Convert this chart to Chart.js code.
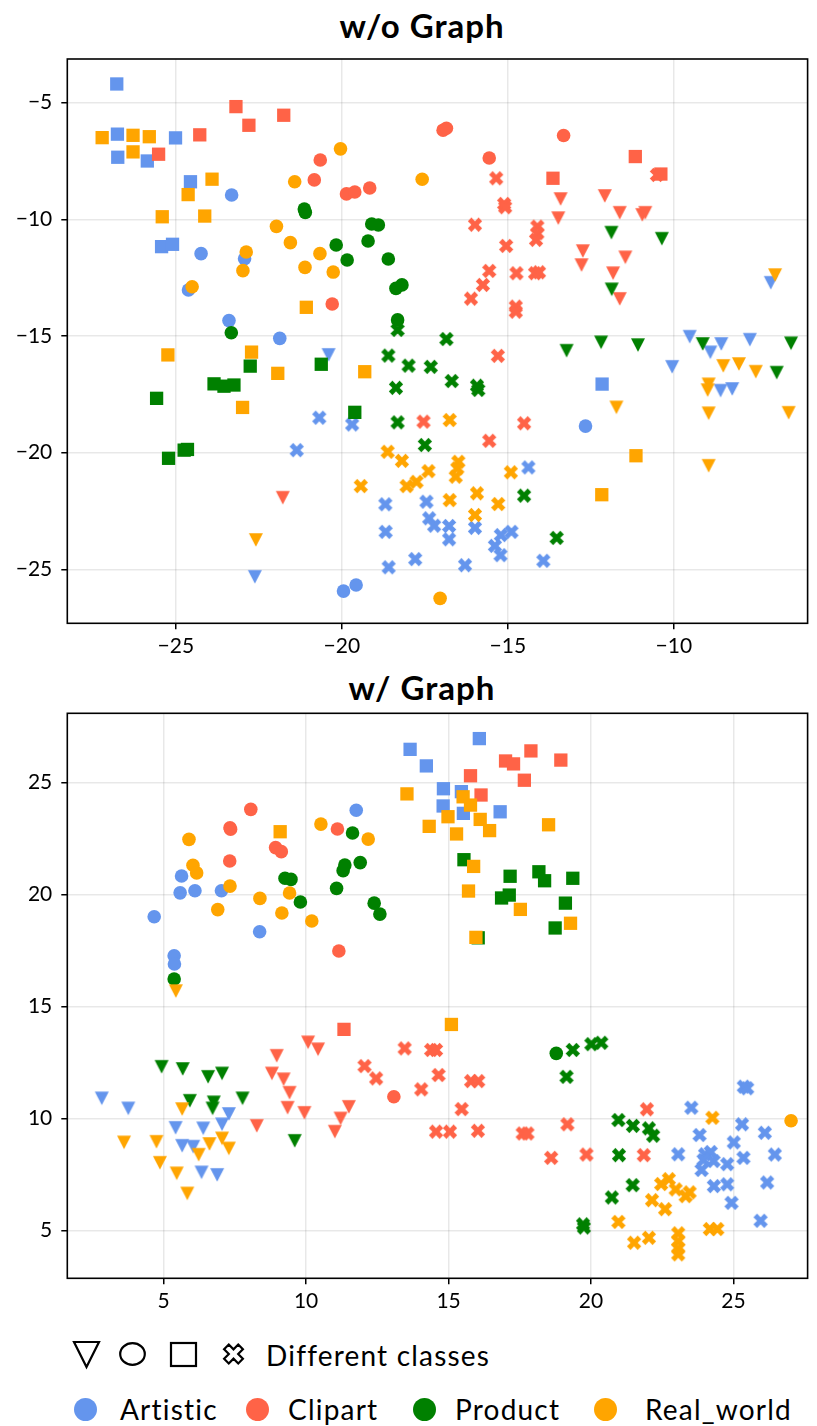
<!DOCTYPE html>
<html>
<head>
<meta charset="utf-8">
<script src="https://cdn.jsdelivr.net/npm/chart.js@4"></script>
<style>
  body { margin: 0; width: 817px; height: 1426px; background: #fff; position: relative; overflow: hidden;
         font-family: Lato, 'Open Sans', sans-serif; color: #000; }
  .title { position: absolute; left: 0; width: 844px; text-align: center; font-weight: bold; font-size: 33px; letter-spacing: 1px; line-height: 1; }
  canvas.chart { position: absolute; left: 0; }
  .leg { position: absolute; font-size: 28px; letter-spacing: 1.2px; line-height: 1; white-space: nowrap; }
  .dot { position: absolute; width: 23px; height: 23px; border-radius: 50%; }
  svg { position: absolute; overflow: visible; }
</style>
</head>
<body>
<div class="title" style="top:9px">w/o Graph</div>
<canvas id="woChart" class="chart" width="817" height="660" style="top:0"></canvas>
<div class="title" style="top:671px">w/ Graph</div>
<canvas id="wChart" class="chart" width="817" height="655" style="top:660px"></canvas>

<svg style="left:73px;top:1341px" width="27" height="27"><polygon points="1,1 26,1 13.5,26" fill="none" stroke="#000" stroke-width="2.2"/></svg>
<svg style="left:119px;top:1342px" width="28" height="24"><ellipse cx="13.5" cy="12" rx="12.3" ry="10.8" fill="none" stroke="#000" stroke-width="2.2"/></svg>
<svg style="left:170px;top:1342px" width="27" height="25"><rect x="1" y="1" width="25" height="23" fill="none" stroke="#000" stroke-width="2.2"/></svg>
<svg style="left:220px;top:1342px" width="27" height="24"><g transform="translate(13.5,12) rotate(45)"><polygon points="-3.3,-10 3.3,-10 3.3,-3.3 10,-3.3 10,3.3 3.3,3.3 3.3,10 -3.3,10 -3.3,3.3 -10,3.3 -10,-3.3 -3.3,-3.3" fill="none" stroke="#000" stroke-width="2.2"/></g></svg>
<div class="leg" style="left:266px;top:1341px">Different classes</div>

<div class="dot" style="left:74px;top:1398px;background:#6495ED"></div>
<div class="leg" style="left:120px;top:1395px">Artistic</div>
<div class="dot" style="left:246px;top:1398px;background:#FF6347"></div>
<div class="leg" style="left:288px;top:1395px">Clipart</div>
<div class="dot" style="left:413px;top:1398px;background:#008000"></div>
<div class="leg" style="left:455px;top:1395px">Product</div>
<div class="dot" style="left:594px;top:1398px;background:#FFA500"></div>
<div class="leg" style="left:645px;top:1395px">Real_world</div>

<script>
const domains = ['Artistic', 'Clipart', 'Product', 'Real_world'];
const shapes = ['x', 'tri', 'circ', 'sq'];

// w/o Graph
const woArtisticTri = [[-7.08,-12.72],[-9.52,-15.03],[-8.57,-15.34],[-7.71,-15.16],[-8.9,-15.7],[-10.05,-16.32],[-8.59,-17.34],[-8.24,-17.27],[-20.4,-15.81],[-22.62,-25.32]];
const woArtisticCirc = [[-23.32,-8.96],[-24.24,-11.47],[-22.93,-11.69],[-24.62,-13.03],[-23.4,-14.34],[-21.87,-15.1],[-19.95,-25.93],[-19.57,-25.67],[-12.66,-18.86]];
const woArtisticSq = [[-26.78,-4.2],[-26.76,-6.35],[-26.75,-7.34],[-25.86,-7.5],[-25.01,-6.51],[-24.56,-8.39],[-25.43,-11.17],[-25.1,-11.07],[-12.16,-17.06]];
const woArtisticX = [[-20.68,-18.5],[-19.69,-18.79],[-21.36,-19.89],[-18.69,-22.21],[-17.45,-22.1],[-17.37,-22.81],[-17.22,-23.13],[-18.68,-23.39],[-17.79,-24.56],[-18.59,-24.91],[-14.38,-20.63],[-16.77,-23.14],[-16.77,-23.71],[-15.99,-23.22],[-15.21,-23.53],[-15.39,-23.99],[-15.22,-24.39],[-14.89,-23.39],[-16.29,-24.82],[-13.93,-24.63]];

const woClipartTri = [[-13.41,-9.13],[-13.48,-9.95],[-12.08,-9.0],[-11.63,-9.72],[-10.95,-9.81],[-10.86,-9.72],[-12.74,-11.36],[-12.78,-11.96],[-11.46,-11.63],[-11.83,-12.31],[-11.63,-13.41],[-21.78,-21.93]];
const woClipartCirc = [[-20.65,-7.46],[-20.83,-8.31],[-19.86,-8.91],[-19.61,-8.83],[-19.16,-8.66],[-20.29,-13.63],[-16.95,-6.18],[-16.85,-6.1],[-15.56,-7.37],[-13.32,-6.41]];
const woClipartSq = [[-23.19,-5.17],[-22.8,-5.97],[-21.75,-5.54],[-24.28,-6.38],[-25.52,-7.21],[-11.16,-7.31],[-13.64,-8.24],[-10.39,-8.06]];
const woClipartX = [[-10.51,-8.1],[-15.35,-8.24],[-15.11,-9.34],[-15.08,-9.48],[-15.99,-10.23],[-14.11,-10.31],[-14.11,-10.6],[-14.15,-10.88],[-15.05,-11.14],[-15.56,-12.21],[-14.74,-12.31],[-14.18,-12.31],[-14.06,-12.27],[-15.75,-12.81],[-16.11,-13.4],[-14.76,-13.74],[-14.76,-13.96],[-15.3,-15.85],[-14.51,-18.74],[-15.56,-19.49],[-17.54,-18.67]];

const woProductTri = [[-11.88,-10.57],[-10.36,-10.83],[-11.87,-13.0],[-13.23,-15.63],[-12.19,-15.27],[-11.08,-15.39],[-9.13,-15.34],[-6.47,-15.31],[-6.9,-16.57]];
const woProductCirc = [[-21.13,-9.56],[-21.1,-9.7],[-19.1,-10.2],[-18.9,-10.24],[-20.17,-11.1],[-19.21,-10.93],[-19.84,-11.74],[-18.6,-11.7],[-18.37,-12.96],[-18.19,-12.81],[-18.32,-14.31],[-23.33,-14.86]];
const woProductSq = [[-22.76,-16.29],[-20.62,-16.21],[-23.85,-17.05],[-23.55,-17.15],[-23.25,-17.1],[-25.58,-17.67],[-19.61,-18.27],[-24.75,-19.89],[-24.65,-19.86],[-25.22,-20.24]];
const woProductX = [[-18.32,-14.74],[-18.6,-15.84],[-17.99,-16.27],[-17.32,-16.32],[-18.37,-17.22],[-18.32,-18.7],[-17.5,-19.67],[-16.85,-15.13],[-16.69,-16.93],[-15.93,-17.13],[-15.89,-17.31],[-14.51,-21.84],[-13.53,-23.65]];

const woRealTri = [[-6.95,-12.39],[-8.51,-16.28],[-8.04,-16.2],[-7.53,-16.53],[-8.95,-17.07],[-8.98,-17.32],[-8.95,-18.31],[-6.54,-18.29],[-11.73,-18.06],[-8.95,-20.56],[-22.59,-23.74]];
const woRealCirc = [[-20.04,-6.98],[-21.42,-8.39],[-17.58,-8.28],[-21.97,-10.3],[-21.55,-11.0],[-20.66,-11.47],[-22.88,-11.4],[-22.98,-12.2],[-21.11,-12.06],[-20.26,-12.26],[-24.51,-12.89],[-17.04,-26.24]];
const woRealSq = [[-27.22,-6.5],[-26.29,-6.4],[-25.8,-6.46],[-26.29,-7.11],[-23.91,-8.28],[-24.63,-8.94],[-25.41,-9.89],[-24.13,-9.86],[-21.07,-13.77],[-25.24,-15.81],[-22.72,-15.69],[-21.93,-16.6],[-22.99,-18.06],[-19.31,-16.53],[-11.14,-20.13],[-12.17,-21.8]];
const woRealX = [[-18.62,-19.96],[-18.19,-20.35],[-17.39,-20.79],[-18.05,-21.43],[-17.75,-21.25],[-19.43,-21.43],[-16.75,-18.6],[-16.49,-20.39],[-16.52,-20.67],[-16.57,-21.03],[-14.91,-20.84],[-16.75,-22.03],[-15.93,-21.74],[-15.29,-22.2],[-15.99,-22.67]];

// w/ Graph
const wArtisticTri = [[2.83,10.9],[3.76,10.45],[5.42,9.58],[6.39,9.56],[7.29,10.2],[7.05,9.74],[5.65,8.78],[6.04,8.74],[6.33,7.59],[6.88,7.48]];
const wArtisticCirc = [[11.76,23.77],[5.63,20.83],[5.58,20.08],[6.1,20.17],[7.03,20.17],[4.67,19.01],[8.37,18.34],[5.37,17.27],[5.38,16.9]];
const wArtisticSq = [[13.65,26.49],[14.22,25.75],[16.08,26.97],[14.82,24.73],[15.45,24.6],[14.81,23.96],[15.52,23.63],[16.81,23.7]];
const wArtisticX = [[25.36,11.42],[25.48,11.35],[23.52,10.48],[25.3,9.74],[26.1,9.36],[23.81,9.26],[25.01,8.93],[23.06,8.4],[24.0,8.4],[24.2,8.5],[24.3,8.1],[23.95,8.15],[23.88,7.7],[24.78,7.96],[25.35,8.24],[26.45,8.39],[24.31,6.98],[24.78,7.06],[26.18,7.14],[24.93,6.23],[25.95,5.43]];

const wClipartTri = [[8.97,12.8],[10.07,13.4],[10.42,13.09],[8.8,12.01],[9.21,11.75],[9.42,11.15],[9.35,10.48],[9.94,10.25],[8.27,9.67],[11.5,10.52],[11.21,10.0],[11.01,9.41]];
const wClipartCirc = [[8.06,23.81],[7.33,22.99],[7.35,22.92],[8.93,22.1],[9.13,21.92],[7.32,21.5],[11.1,22.93],[11.15,17.48],[13.08,10.97]];
const wClipartSq = [[17.89,26.42],[17.0,25.97],[17.28,25.84],[18.94,26.01],[15.77,25.31],[17.66,25.11],[16.14,24.45],[11.33,13.98]];
const wClipartX = [[12.05,12.34],[12.46,11.79],[13.46,13.13],[14.04,11.3],[14.39,13.06],[14.56,13.06],[14.65,11.94],[14.56,9.41],[15.05,9.41],[15.46,10.42],[15.79,11.67],[16.04,11.67],[16.03,9.45],[17.6,9.33],[17.77,9.33],[18.6,8.24],[19.84,8.39],[19.17,9.74],[21.96,10.41],[21.85,8.36]];

const wProductTri = [[4.93,12.31],[5.67,12.21],[6.56,11.86],[7.05,12.01],[5.92,10.79],[6.76,10.72],[6.72,10.45],[7.77,10.9],[9.6,9.0]];
const wProductCirc = [[11.63,22.75],[11.36,21.32],[11.3,21.07],[11.9,21.43],[9.26,20.73],[9.47,20.68],[9.8,19.67],[11.07,20.28],[12.39,19.62],[12.59,19.13],[5.37,16.23],[18.78,12.91]];
const wProductSq = [[15.54,21.56],[17.16,20.82],[18.17,21.02],[18.37,20.62],[19.36,20.73],[16.86,19.85],[17.13,19.98],[19.1,19.62],[18.74,18.51],[16.04,18.07]];
const wProductX = [[19.36,13.06],[20.01,13.32],[20.36,13.38],[19.14,11.86],[20.96,9.93],[21.47,9.67],[22.03,9.56],[22.18,9.23],[20.98,8.36],[21.46,7.02],[20.73,6.47],[19.72,5.27],[19.75,5.13]];

const wRealTri = [[5.43,15.69],[5.65,10.42],[3.61,8.93],[4.75,8.96],[4.87,8.02],[5.46,7.55],[5.83,6.65],[6.23,8.38],[6.61,8.86],[7.05,9.11],[7.29,8.66]];
const wRealCirc = [[5.89,22.47],[6.03,21.31],[6.16,20.97],[7.33,20.38],[6.9,19.33],[8.38,19.83],[9.42,20.07],[9.15,19.18],[10.2,18.82],[10.52,23.15],[12.18,22.48],[27.02,9.9]];
const wRealSq = [[9.09,22.81],[13.54,24.5],[14.32,23.05],[15.51,24.37],[15.77,24.0],[14.98,23.48],[16.11,23.36],[16.44,22.86],[15.28,22.71],[18.51,23.12],[15.88,21.26],[15.7,20.16],[17.52,19.34],[19.28,18.72],[15.96,18.09],[15.1,14.2]];
const wRealX = [[24.26,10.03],[22.46,7.07],[22.73,7.29],[22.97,6.83],[23.32,6.53],[23.46,6.7],[22.14,6.35],[22.6,5.95],[20.96,5.38],[22.03,4.67],[21.51,4.45],[23.06,4.87],[23.06,4.52],[23.06,4.2],[23.06,3.93],[24.17,5.06],[24.43,5.06]];

const woTicksX = [-25, -20, -15, -10];
const woTicksY = [-25, -20, -15, -10, -5];
const wTicksX = [5, 10, 15, 20, 25];
const wTicksY = [5, 10, 15, 20, 25];

const colors = { Artistic: '#6495ED', Clipart: '#FF6347', Product: '#008000', Real_world: '#FFA500' };

// matplotlib-like filled X and 'v' markers
function makeX(color) {
  const c = document.createElement('canvas');
  c.width = 18; c.height = 18;
  const g = c.getContext('2d');
  g.translate(9, 9);
  g.rotate(Math.PI / 4);
  const s = 7.6, w = s / 3;
  g.beginPath();
  g.moveTo(-w, -s); g.lineTo(w, -s); g.lineTo(w, -w); g.lineTo(s, -w); g.lineTo(s, w); g.lineTo(w, w);
  g.lineTo(w, s); g.lineTo(-w, s); g.lineTo(-w, w); g.lineTo(-s, w); g.lineTo(-s, -w); g.lineTo(-w, -w);
  g.closePath();
  g.fillStyle = color;
  g.fill();
  return c;
}

function makeTri(color) {
  const c = document.createElement('canvas');
  c.width = 16; c.height = 16;
  const g = c.getContext('2d');
  g.beginPath();
  g.moveTo(1, 1.2); g.lineTo(15, 1.2); g.lineTo(8, 14.8);
  g.closePath();
  g.fillStyle = color;
  g.fill();
  return c;
}

function buildDatasets(series) {
  const out = [];
  let i = 0;
  domains.forEach(d => {
    series[d].forEach((pts, k) => {
      const shape = shapes[k];
      let style = 'circle', radius = 6.8;
      if (shape === 'x') { style = makeX(colors[d]); radius = 7; }
      if (shape === 'tri') { style = makeTri(colors[d]); radius = 7; }
      if (shape === 'sq') { style = 'rect'; radius = 9.4; }
      out.push({
        label: d + ' ' + shape,
        data: pts.map(p => ({ x: p[0], y: p[1] })),
        pointStyle: style,
        pointRadius: radius,
        pointHoverRadius: radius,
        backgroundColor: colors[d],
        borderColor: colors[d],
        borderWidth: 0,
        clip: false,
        order: 100 - i
      });
      i++;
    });
  });
  return out;
}

const frame = {
  id: 'frame',
  afterDraw(chart) {
    const a = chart.chartArea, ctx = chart.ctx;
    ctx.save();
    ctx.strokeStyle = '#000';
    ctx.lineWidth = 1.6;
    ctx.strokeRect(a.left, a.top, a.right - a.left, a.bottom - a.top);
    ctx.restore();
  }
};

const fmt = v => (v < 0 ? '\u2212' + Math.abs(v) : String(v));

function axis(min, max, ticks, isX, size) {
  return {
    type: 'linear',
    position: isX ? 'bottom' : 'left',
    min: min,
    max: max,
    afterBuildTicks: s => { s.ticks = ticks.map(v => ({ value: v })); },
    afterFit: s => { if (isX) s.height = size; else s.width = size; },
    grid: { color: 'rgba(0,0,0,0.09)', lineWidth: 1.5, tickColor: '#000', tickWidth: 1.5, tickLength: 6, drawTicks: true },
    border: { display: false },
    ticks: { color: '#000', font: { family: 'Lato', size: 21 }, padding: isX ? 4 : 9, callback: fmt, maxRotation: 0 }
  };
}

function scatter(id, series, xr, yr, xt, yt, padTop, xAxisH) {
  new Chart(document.getElementById(id), {
    type: 'scatter',
    data: { datasets: buildDatasets(series) },
    options: {
      responsive: false,
      animation: false,
      events: [],
      layout: { padding: { top: padTop, right: 8, left: 0, bottom: 0 } },
      plugins: { legend: { display: false }, tooltip: { enabled: false }, title: { display: false } },
      scales: {
        x: axis(xr[0], xr[1], xt, true, xAxisH),
        y: axis(yr[0], yr[1], yt, false, 67.3)
      }
    },
    plugins: [frame]
  });
}

scatter('woChart', {
  Artistic: [woArtisticX, woArtisticTri, woArtisticCirc, woArtisticSq],
  Clipart: [woClipartX, woClipartTri, woClipartCirc, woClipartSq],
  Product: [woProductX, woProductTri, woProductCirc, woProductSq],
  Real_world: [woRealX, woRealTri, woRealCirc, woRealSq]
}, [-28.27, -5.97], [-27.31, -3.13], woTicksX, woTicksY, 59, 36.7);

scatter('wChart', {
  Artistic: [wArtisticX, wArtisticTri, wArtisticCirc, wArtisticSq],
  Clipart: [wClipartX, wClipartTri, wClipartCirc, wClipartSq],
  Product: [wProductX, wProductTri, wProductCirc, wProductSq],
  Real_world: [wRealX, wRealTri, wRealCirc, wRealSq]
}, [1.62, 27.6], [2.86, 28.1], wTicksX, wTicksY, 53.3, 36.7);
</script>
</body>
</html>
